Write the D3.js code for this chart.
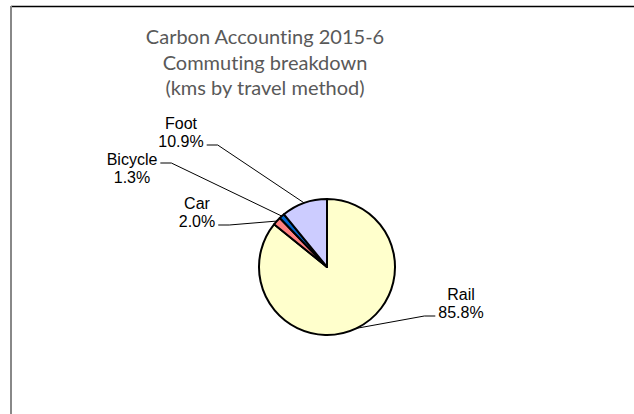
<!DOCTYPE html>
<meta charset="utf-8">
<style>
body { margin: 0; background: #fff; }
.title { font-family: Lato, "Open Sans", sans-serif; fill: #595959; font-variant-ligatures: none; }
.lbl { font-family: "Liberation Sans", Arial, sans-serif; font-size: 16px; fill: #000; }
.leader { fill: none; stroke: #000; stroke-width: 1; }
</style>
<body>
<div id="chart"></div>
<script src="https://cdn.jsdelivr.net/npm/d3@7"></script>
<script>

var width = 634,
    height = 414;

// data
var methods = ["Rail", "Car", "Bicycle", "Foot"];
var shares = [85.8, 2.0, 1.3, 10.9];
var colors = ["#ffffcc", "#ff8080", "#0066cc", "#ccccff"];
var titleLines = ["Carbon Accounting 2015-6", "Commuting breakdown", "(kms by travel method)"];

// label placement (Excel "best fit" spots): [x centre, y of first baseline, side the leader leaves, line it hangs off]
var labelSpots = [
  [461, 300, "left", 1],
  [197, 209, "right", 1],
  [132, 165, "right", 0],
  [181, 129, "right", 1]
];

var cx = 327, cy = 267, radius = 68, lineGap = 18;

var svg = d3.select("#chart").append("svg")
    .attr("width", width)
    .attr("height", height);

// chart area border (only top + left show)
svg.append("line")
    .attr("x1", 11).attr("x2", width)
    .attr("y1", 6.5).attr("y2", 6.5)
    .attr("stroke", "#000").attr("stroke-width", 1.5);
svg.append("line")
    .attr("x1", 11).attr("x2", 11)
    .attr("y1", 6).attr("y2", height)
    .attr("stroke", "#888").attr("stroke-width", 2);

// title
var title = svg.append("text")
    .attr("class", "title")
    .attr("text-anchor", "middle")
    .style("font-size", "20px");
title.selectAll("tspan")
    .data(titleLines)
  .enter().append("tspan")
    .attr("x", 265)
    .attr("y", function(d, i) { return 44 + i * 25.5; })
    .text(function(d) { return d; });

var rows = methods.map(function(m, i) {
  return {name: m, value: shares[i], color: colors[i], spot: labelSpots[i]};
});

var pie = d3.pie()
    .sort(null)
    .value(function(d) { return d.value; });

var arc = d3.arc()
    .innerRadius(0)
    .outerRadius(radius);

var arcs = pie(rows);

var g = svg.append("g")
    .attr("transform", "translate(" + cx + "," + cy + ")");

g.selectAll("path.slice")
    .data(arcs)
  .enter().append("path")
    .attr("class", "slice")
    .attr("d", arc)
    .attr("fill", function(d) { return d.data.color; })
    .attr("stroke", "#000")
    .attr("stroke-width", 2)
    .attr("stroke-linejoin", "round");

var labels = svg.selectAll("text.lbl")
    .data(arcs)
  .enter().append("text")
    .attr("class", "lbl")
    .attr("text-anchor", "middle");
labels.append("tspan")
    .attr("x", function(d) { return d.data.spot[0]; })
    .attr("y", function(d) { return d.data.spot[1]; })
    .text(function(d) { return d.data.name; });
labels.append("tspan")
    .attr("x", function(d) { return d.data.spot[0]; })
    .attr("y", function(d) { return d.data.spot[1] + lineGap; })
    .text(function(d) { return d3.format(".1f")(d.data.value) + "%"; });

// leader lines, hung off the chosen text line
labels.each(function(d) {
  var s = d.data.spot;
  var tsp = d3.select(this).selectAll("tspan").nodes()[s[3]];
  var half = tsp.getComputedTextLength() / 2;
  var a = (d.startAngle + d.endAngle) / 2;
  var px = cx + radius * Math.sin(a),
      py = cy - radius * Math.cos(a);
  var ly = s[1] + s[3] * lineGap - 2;
  var ex, hx;
  if (s[2] === "left") {
    ex = s[0] - half - 3; hx = ex - 11;
  } else {
    ex = s[0] + half + 3; hx = ex + 11;
  }
  svg.append("path")
      .attr("class", "leader")
      .attr("d", "M" + ex + "," + ly + "L" + hx + "," + ly + "L" + px + "," + py);
});

</script>
</body>
